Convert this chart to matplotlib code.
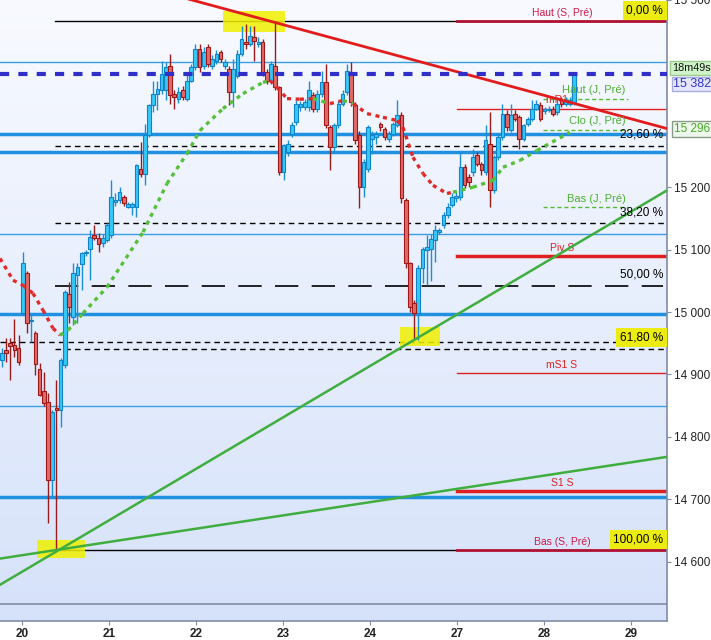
import numpy as np
import matplotlib.pyplot as plt
from matplotlib.patches import Rectangle

plt.rcParams['font.family'] = ['Liberation Sans', 'DejaVu Sans']

# ---- hourly candles (day 20 .. day 28) ----
opens = [14923, 14939, 14950, 14947, 14942, 14998, 15062, 14985, 14966, 14909,
         14873, 14856, 14731, 14846, 14843, 14915, 15029, 14992, 15059, 15077,
         15094, 15101, 15123, 15118, 15110, 15115, 15123, 15176, 15179, 15184,
         15168, 15168, 15168, 15230, 15222, 15283, 15331, 15350, 15355, 15355,
         15395, 15350, 15342, 15355, 15342, 15371, 15392, 15422, 15395, 15424,
         15395, 15403, 15416, 15395, 15390, 15352, 15379, 15414, 15433, 15430,
         15441, 15430, 15432, 15384, 15371, 15395, 15360, 15224, 15257, 15286,
         15304, 15328, 15328, 15328, 15347, 15326, 15350, 15368, 15296, 15264,
         15299, 15334, 15352, 15382, 15331, 15283, 15200, 15230, 15278, 15281,
         15301, 15293, 15277, 15286, 15299, 15315, 15179, 15078, 15014, 14998,
         15070, 15099, 15101, 15115, 15128, 15139, 15155, 15171, 15182, 15184,
         15232, 15216, 15224, 15251, 15237, 15224, 15270, 15195, 15248, 15280,
         15318, 15291, 15318, 15312, 15278, 15301, 15310, 15326, 15331, 15322,
         15323, 15326, 15320, 15339, 15333, 15334, 15336]
highs = [14942, 14958, 14958, 14989, 14963, 15096, 15065, 14995, 14970, 14918,
         14904, 14870, 14843, 14891, 14926, 15035, 15048, 15078, 15078, 15096,
         15100, 15131, 15139, 15126, 15125, 15142, 15211, 15190, 15200, 15188,
         15176, 15176, 15238, 15272, 15302, 15334, 15371, 15371, 15403, 15400,
         15414, 15355, 15360, 15362, 15380, 15398, 15429, 15430, 15424, 15430,
         15412, 15420, 15420, 15405, 15395, 15406, 15420, 15459, 15461, 15459,
         15459, 15440, 15438, 15390, 15402, 15464, 15363, 15270, 15275, 15305,
         15340, 15338, 15342, 15371, 15352, 15355, 15387, 15398, 15300, 15303,
         15338, 15356, 15398, 15400, 15336, 15290, 15245, 15300, 15290, 15290,
         15305, 15296, 15290, 15305, 15339, 15320, 15182, 15080, 15020, 15075,
         15105, 15123, 15125, 15140, 15135, 15160, 15175, 15190, 15192, 15256,
         15238, 15222, 15262, 15256, 15240, 15299, 15320, 15252, 15284, 15334,
         15323, 15334, 15323, 15316, 15302, 15312, 15340, 15340, 15336, 15328,
         15330, 15330, 15344, 15344, 15344, 15344, 15385]
lows = [14912, 14920, 14891, 14928, 14915, 14995, 14966, 14952, 14899, 14865,
        14850, 14662, 14704, 14618, 14816, 14910, 14982, 14979, 14982, 15035,
        15090, 15051, 15115, 15096, 15105, 15112, 15118, 15170, 15175, 15170,
        15166, 15155, 15152, 15216, 15203, 15280, 15320, 15323, 15350, 15339,
        15334, 15326, 15335, 15340, 15338, 15368, 15388, 15385, 15390, 15392,
        15390, 15398, 15400, 15390, 15331, 15328, 15375, 15410, 15422, 15426,
        15403, 15425, 15378, 15365, 15366, 15355, 15220, 15211, 15250, 15280,
        15300, 15322, 15324, 15322, 15320, 15320, 15345, 15295, 15227, 15255,
        15295, 15330, 15348, 15330, 15270, 15166, 15184, 15225, 15254, 15270,
        15290, 15275, 15272, 15282, 15296, 15175, 15070, 15000, 14955, 14955,
        15046, 15043, 15050, 15080, 15125, 15135, 15150, 15168, 15176, 15180,
        15198, 15200, 15218, 15234, 15220, 15219, 15168, 15190, 15244, 15276,
        15290, 15288, 15306, 15262, 15274, 15298, 15306, 15323, 15306, 15318,
        15320, 15314, 15316, 15328, 15330, 15330, 15332]
closes = [14934, 14934, 14945, 14939, 14920, 15078, 14982, 14987, 14917, 14867,
          14854, 14731, 14840, 14843, 14923, 15032, 15008, 15062, 15072, 15094,
          15097, 15120, 15118, 15109, 15118, 15139, 15184, 15179, 15192, 15174,
          15173, 15173, 15235, 15222, 15283, 15331, 15349, 15357, 15382, 15393,
          15347, 15344, 15353, 15344, 15371, 15392, 15422, 15392, 15416, 15398,
          15406, 15414, 15405, 15401, 15352, 15390, 15414, 15438, 15430, 15443,
          15435, 15432, 15382, 15371, 15397, 15360, 15224, 15267, 15269, 15299,
          15334, 15333, 15336, 15355, 15326, 15350, 15368, 15299, 15264, 15299,
          15334, 15350, 15387, 15336, 15275, 15200, 15240, 15296, 15283, 15286,
          15296, 15280, 15286, 15301, 15315, 15182, 15078, 15008, 14998, 15070,
          15101, 15104, 15117, 15131, 15131, 15155, 15168, 15184, 15186, 15232,
          15203, 15208, 15248, 15238, 15227, 15275, 15195, 15248, 15280, 15318,
          15296, 15315, 15310, 15278, 15299, 15309, 15326, 15333, 15310, 15323,
          15326, 15318, 15334, 15334, 15339, 15340, 15382]
first_day, last_day = -0.233, 6.345

day_labels = ['20', '21', '22', '23', '24', '27', '28', '29']
price_ticks = [14600, 14700, 14800, 14900, 15000, 15100, 15200, 15500]

# moving average (dotted), read at points along the curve
ma_x = [-0.253, -0.103, 0.011, 0.126, 0.241, 0.356, 0.437, 0.529, 0.701, 0.977,
        1.391, 1.667, 1.897, 2.046, 2.310, 2.540, 2.770, 2.851, 2.931, 3.046,
        3.195, 3.345, 3.540, 3.690, 3.805, 3.966, 4.149, 4.310, 4.379, 4.494,
        4.609, 4.724, 4.885, 4.954, 5.184, 5.414, 5.529, 5.724, 5.920, 6.299]
ma_y = [15086, 15051, 15043, 15030, 15003, 14974, 14963, 14971, 14998, 15040,
        15128, 15206, 15254, 15291, 15326, 15350, 15368, 15371, 15360, 15342,
        15341, 15342, 15334, 15339, 15334, 15318, 15312, 15307, 15296, 15248,
        15222, 15203, 15190, 15192, 15200, 15211, 15232, 15243, 15259, 15288]

# fibonacci retracement
fibo_levels = [15466, 15266, 15142, 15042, 14941, 14618]
fibo_labels = ['0,00 %', '23,60 %', '38,20 %', '50,00 %', '61,80 %', '100,00 %']
fibo_marked = [True, False, False, False, True, True]
extra_dash = 14952

blue_thin = [15400, 15125, 14850]
blue_thick = [15286, 15256, 14997, 14704]
last_price = 15382

week_levels = [15466, 15326, 15090, 14902, 14713, 14618]
week_labels = ['Haut (S, Pré)', 'mR1 S', 'Piv S', 'mS1 S', 'S1 S', 'Bas (S, Pré)']
week_colors = ['#b01030', '#e02020', '#e02020', '#e02020', '#e02020', '#b01030']
week_widths = [2, 1, 2.5, 1, 2.5, 2]
week_text = ['#d0184a', '#e02020', '#e02020', '#e02020', '#e02020', '#d0184a']

day_levels = [15342, 15292, 15168]
day_level_labels = ['Haut (J, Pré)', 'Clo (J, Pré)', 'Bas (J, Pré)']

# trend lines (two anchors each)
red_trend = ([1.9, 7.414], [15502, 15294])
green_a = ([-0.253, 7.414], [14563, 15195])
green_b = ([-0.253, 7.414], [14605, 14768])

# highlighted spots
marks_x = [(2.31, 3.02), (0.17, 0.72), (4.34, 4.80)]
marks_y = [(15448, 15483), (14606, 14635), (14945, 14976)]

x0, x1 = -0.253, 7.414
y0, y1 = 14505, 15500

fig = plt.figure(figsize=(7.11, 6.40), dpi=100)
ax = fig.add_axes([0, 19 / 640, 667 / 711, 621 / 640])
ax.set_xlim(x0, x1)
ax.set_ylim(y0, y1)

# background gradient
grad = np.linspace(1, 0, 256).reshape(-1, 1)
top = np.array([248, 250, 255]) / 255
bot = np.array([214, 226, 250]) / 255
img = top * grad[..., None] + bot * (1 - grad[..., None])
ax.imshow(img, extent=[x0, x1, y0, y1], aspect='auto', zorder=0, origin='upper')

# candles
xs = np.linspace(first_day, last_day, len(opens))
o = np.array(opens); c = np.array(closes)
up = c >= o
bw = 0.042
wick_col = np.where(up, '#1b8fd6', '#9a1b1b')
ax.vlines(xs, lows, highs, colors=wick_col, lw=1, zorder=3)
body_h = np.maximum(np.abs(c - o), 3)
ax.bar(xs[up], body_h[up], bw, bottom=np.minimum(o, c)[up], color='#36c8f6',
       edgecolor='#1283c8', lw=0.8, zorder=4)
ax.bar(xs[~up], body_h[~up], bw, bottom=np.minimum(o, c)[~up], color='#e06a6a',
       edgecolor='#a01818', lw=0.8, zorder=4)

# blue horizontal levels
for lv in blue_thin:
    ax.axhline(lv, color='#3a9ee2', lw=1, zorder=2)
for lv in blue_thick:
    ax.axhline(lv, color='#2090e0', lw=2.5, zorder=2)
ax.axhline(last_price, color='#3030c8', lw=3, ls=(0, (2.2, 2.2)), zorder=6)
ax.axhline(14533, color='#7f8ca6', lw=1.2, zorder=2)

# fibonacci
lab_x = 7.37
for lv, lab, mk in zip(fibo_levels, fibo_labels, fibo_marked):
    if lab in ('0,00 %', '100,00 %'):
        ax.plot([0.379, 5.0], [lv, lv], color='black', lw=1, zorder=2)
    elif lab == '50,00 %':
        ax.plot([0.379, x1 - 0.05], [lv, lv], color='black', lw=1.2,
                ls=(0, (14, 8)), zorder=2)
    else:
        ax.plot([0.379, x1], [lv, lv], color='black', lw=1, ls=(0, (4, 3)), zorder=2)
    bb = dict(facecolor='#ecec10', edgecolor='none', pad=2.5) if mk else None
    ax.annotate(lab, (lab_x, lv), xytext=(0, 8), textcoords='offset points',
                ha='right', va='center', fontsize=8.5, color='black', bbox=bb, zorder=7)
ax.axhline(extra_dash, color='black', lw=1, ls=(0, (4, 3)), zorder=2)

# weekly pivots
for lv, lab, col, w, tc in zip(week_levels, week_labels, week_colors, week_widths, week_text):
    ax.plot([5.0, x1], [lv, lv], color=col, lw=w, zorder=2)
    ax.annotate(lab, (6.207, lv), xytext=(0, 6), textcoords='offset points',
                ha='center', va='center', fontsize=7.5, color=tc, zorder=2.5)

# previous day levels
for lv, lab in zip(day_levels, day_level_labels):
    ax.plot([5.99, 6.966], [lv, lv], color='#55bb33', lw=1, ls=(0, (3, 2)), zorder=2)
    ax.annotate(lab, (6.94, lv), xytext=(0, 6), textcoords='offset points',
                ha='right', va='center', fontsize=8, color='#4cb030', zorder=7)

# trend lines
ax.plot(*red_trend, color='#e21c1c', lw=2, zorder=5)
ax.plot(*green_a, color='#3fae3f', lw=1.8, zorder=5)
ax.plot(*green_b, color='#3fae3f', lw=1.8, zorder=5)

# moving average dotted, red above price, green below
for k in range(len(ma_x) - 1):
    xm = 0.5 * (ma_x[k] + ma_x[k + 1])
    j = int(np.argmin(np.abs(xs - xm)))
    ym = 0.5 * (ma_y[k] + ma_y[k + 1])
    col = '#e02a2a' if ym > closes[j] else '#55c038'
    ax.plot(ma_x[k:k + 2], ma_y[k:k + 2], color=col, lw=2.4,
            ls=(0, (1.2, 1.4)), zorder=5, solid_capstyle='butt')

# yellow highlights
for (a, b), (lo, hi) in zip(marks_x, marks_y):
    ax.add_patch(Rectangle((a, lo), b - a, hi - lo, facecolor='#f0f000',
                           edgecolor='none', alpha=0.85, zorder=2.5))

# axes styling
for s in ('top', 'left'):
    ax.spines[s].set_visible(False)
for s in ('right', 'bottom'):
    ax.spines[s].set_color('#7f8ca6')
    ax.spines[s].set_linewidth(1.2)
ax.yaxis.tick_right()
ax.set_yticks(price_ticks)
ax.set_yticklabels([f'{v:,}'.replace(',', ' ') for v in price_ticks])
ax.set_xticks(range(len(day_labels)))
ax.set_xticklabels(day_labels)
ax.tick_params(axis='both', labelsize=8.5, colors='#7f8ca6', labelcolor='#222222',
               length=3, pad=2)
for t in ax.get_xticklabels():
    t.set_fontweight('bold')

# right side boxes
fig.text(672 / 711, 1 - 68 / 640, '18m49s', fontsize=7.8, color='#111111',
         ha='left', va='center',
         bbox=dict(facecolor='#cff3c8', edgecolor='#9ccc90', pad=1.2))
fig.text(673 / 711, 1 - 84 / 640, '15 382', fontsize=9, color='#3535c8',
         ha='left', va='center',
         bbox=dict(facecolor='#e4e6fc', edgecolor='#a8ade0', pad=1.0))
fig.text(674 / 711, 1 - 129 / 640, '15 296', fontsize=8.5, color='#44aa22',
         ha='left', va='center',
         bbox=dict(facecolor='#eef7ec', edgecolor='#8a9a88', pad=1.2))

fig.savefig('out.png', dpi=100)
